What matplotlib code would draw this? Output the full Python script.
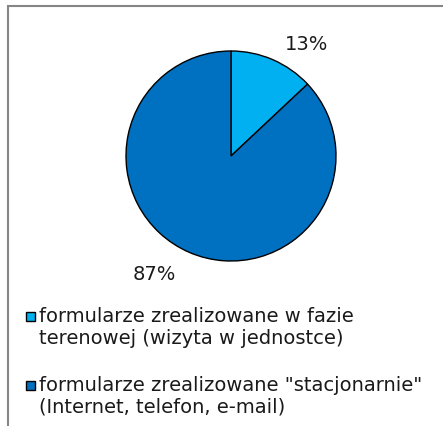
import matplotlib
matplotlib.use("Agg")
import matplotlib.pyplot as plt
from matplotlib.patches import Rectangle
import numpy as np

categories = ["formularze zrealizowane w fazie\nterenowej (wizyta w jednostce)",
              "formularze zrealizowane \"stacjonarnie\"\n(Internet, telefon, e-mail)"]
values = [13, 87]
value_labels = ["13%", "87%"]
colors = ["#00B0F0", "#0070C0"]

W, H = 443, 427
fig = plt.figure(figsize=(W / 100, H / 100), dpi=100)
fig.patch.set_facecolor("white")

# outer frame
fig.patches.append(Rectangle((8 / W, -0.1), 1.2, (H - 7) / H + 0.1, transform=fig.transFigure,
                             fill=False, edgecolor="#868686", linewidth=1.5, zorder=0))

# pie axes
cx, cy, r = 231, 157, 105
ax = fig.add_axes([(cx - r) / W, (H - cy - r) / H, 2 * r / W, 2 * r / H])
wedges, _ = ax.pie(values, colors=colors, startangle=90, counterclock=False,
                   wedgeprops=dict(edgecolor="black", linewidth=1.0), radius=1.0)
ax.set_xlim(-1, 1)
ax.set_ylim(-1, 1)
ax.set_aspect("equal")
ax.axis("off")

fs = 14.0
label_pos = [(0.72, 1.07), (-0.73, -1.12)]
for (lx, ly), t in zip(label_pos, value_labels):
    ax.text(lx, ly, t, ha="center", va="center", fontsize=fs, color="#1a1a1a",
            family="DejaVu Sans", clip_on=False)

# legend
legend_y = [317, 386]
for y, lab, c in zip(legend_y, categories, colors):
    fig.patches.append(Rectangle((26 / W, (H - y - 5) / H), 9 / W, 9 / H,
                                 transform=fig.transFigure, facecolor=c,
                                 edgecolor="black", linewidth=1.0))
    fig.text(39 / W, (H - y + 10) / H, lab, ha="left", va="top", fontsize=fs,
             color="#1a1a1a", linespacing=1.17, family="DejaVu Sans")

fig.savefig("out.png", dpi=100)
